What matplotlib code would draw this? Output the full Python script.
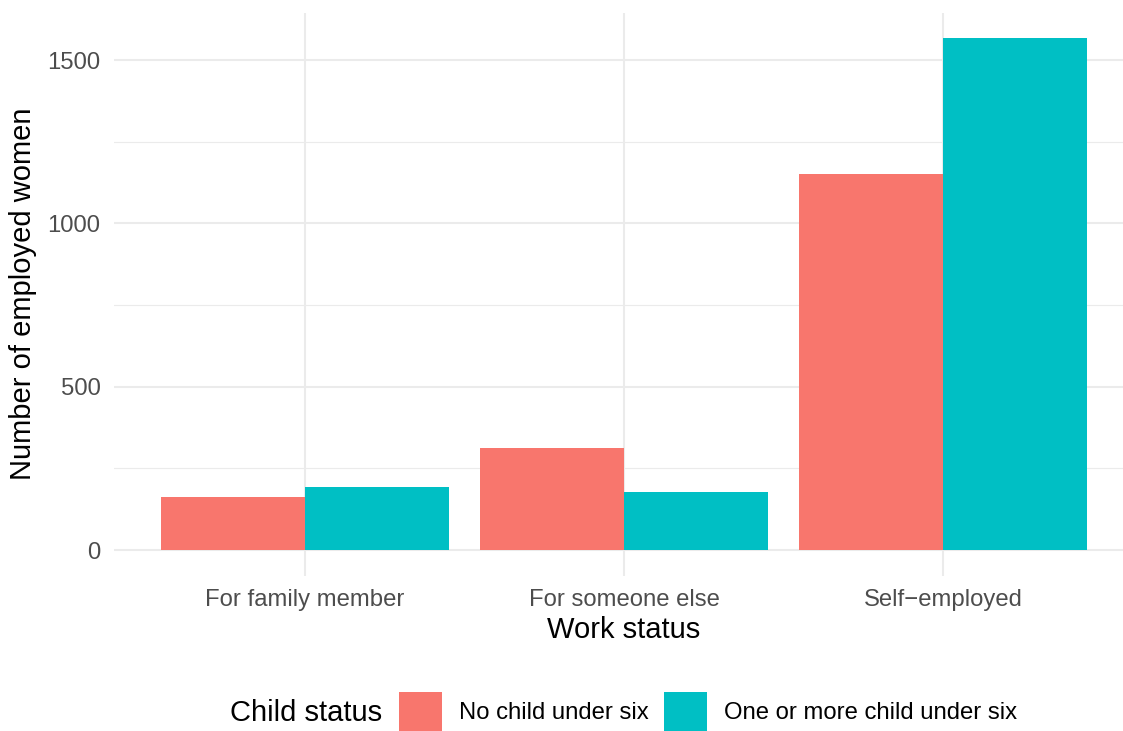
import matplotlib
matplotlib.use("Agg")
import matplotlib.pyplot as plt
import numpy as np

categories = ["For family member", "For someone else", "Self\u2212employed"]
groups = ["No child under six", "One or more child under six"]
no_child = [163, 312, 1151]
one_or_more = [193, 178, 1567]
colors = ["#F8766D", "#00BFC4"]
y_ticks = [0, 500, 1000, 1500]
y_minor = [250, 750, 1250]

plt.rcParams['font.family'] = ['Liberation Sans', 'DejaVu Sans']

W, H = 1123, 731
fig = plt.figure(figsize=(W / 100, H / 100), dpi=100)
left_px, right_px = 113.6, 1134.4
top_px, bot_px = 12.6, 575.6
ax = fig.add_axes([left_px / W, 1 - bot_px / H, (right_px - left_px) / W, (bot_px - top_px) / H])

x = np.arange(1, len(categories) + 1)
bw = 0.45
ax.bar(x - bw / 2, no_child, width=bw, color=colors[0], label=groups[0], zorder=3)
ax.bar(x + bw / 2, one_or_more, width=bw, color=colors[1], label=groups[1], zorder=3)

ymax = max(max(no_child), max(one_or_more))
ax.set_xlim(0.4, 3.6)
ax.set_ylim(-0.05 * ymax, 1.05 * ymax)

ax.set_xticks(x)
ax.set_xticklabels(categories)
ax.set_yticks(y_ticks)
ax.set_yticks(y_minor, minor=True)
ax.grid(True, which='major', color='#EBEBEB', linewidth=1.5, zorder=0)
ax.grid(True, which='minor', axis='y', color='#EBEBEB', linewidth=0.8, zorder=0)
ax.tick_params(axis='both', which='both', length=0)
ax.tick_params(axis='y', pad=9.5, labelsize=17.2, labelcolor='#4D4D4D')
ax.tick_params(axis='x', pad=10, labelsize=17.2, labelcolor='#4D4D4D')
for s in ax.spines.values():
    s.set_visible(False)
ax.set_facecolor('white')

fig.text(624 / W, 1 - 629.5 / H, "Work status", ha='center', va='center',
         fontsize=21, color='black')
fig.text(23 / W, 1 - 294 / H, "Number of employed women", rotation=90,
         ha='center', va='center', fontsize=21, color='black')

leg = fig.legend(loc='center left', bbox_to_anchor=(399 / W, 1 - 711.4 / H),
                 bbox_transform=fig.transFigure, ncol=2, frameon=False,
                 fontsize=17.2, handlelength=1.8, handleheight=2.13,
                 handletextpad=0.70, columnspacing=0.67, borderpad=0,
                 borderaxespad=0)
fig.text(230 / W, 1 - 713 / H, "Child status", ha='left', va='center',
         fontsize=21, color='black')

fig.savefig("out.png", dpi=100, facecolor='white')
